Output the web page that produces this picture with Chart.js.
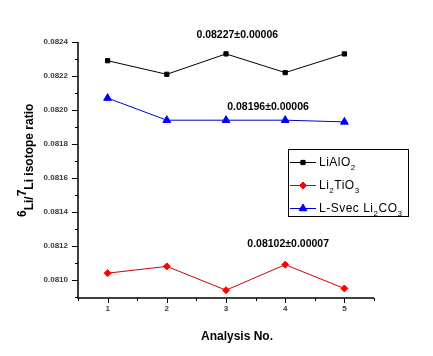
<!DOCTYPE html>
<html><head><meta charset="utf-8">
<script src="https://cdn.jsdelivr.net/npm/chart.js@4.4.1/dist/chart.umd.min.js"></script>
<style>html,body{margin:0;padding:0;background:#fff}#wrap{width:433px;height:356px;position:relative}</style>
</head><body><div id="wrap"><canvas id="c"></canvas></div>
<script>
// ---- data ----
const analysisNo = [1, 2, 3, 4, 5];
const liAlO2 = [0.08229, 0.08221, 0.08233, 0.08222, 0.08233];
const li2TiO3 = [0.08104, 0.08108, 0.08094, 0.08109, 0.08095];
const lSvec = [0.08207, 0.08194, 0.08194, 0.08194, 0.08193];
const yTickValues = [0.0810, 0.0812, 0.0814, 0.0816, 0.0818, 0.0820, 0.0822, 0.0824];
const yTickLabels = ['0.0810', '0.0812', '0.0814', '0.0816', '0.0818', '0.0820', '0.0822', '0.0824'];
const xTickLabels = ['1', '2', '3', '4', '5'];
const annotationTexts = ['0.08227\u00b10.00006', '0.08196\u00b10.00006', '0.08102\u00b10.00007'];
const annotationAnchors = [[3.19, 0.082441], [3.71, 0.082018], [4.05, 0.081212]];
const seriesNames = [[['LiAlO', 0], ['2', 1]], [['Li', 0], ['2', 1], ['TiO', 0], ['3', 1]], [['L-Svec Li', 0], ['2', 1], ['CO', 0], ['3', 1]]];

const FONT = '"Liberation Sans", Arial, sans-serif';

function pts(vals) { return analysisNo.map((x, i) => ({x: x, y: vals[i]})); }

const styles = [
  {color: '#000000', pointColor: '#000000', pointStyle: 'rect', r: 3},
  {color: '#d00000', pointColor: '#ff0000', pointStyle: 'rectRot', r: 3.5},
  {color: '#0000d0', pointColor: '#0000ff', pointStyle: 'triangle', r: 4.5}
];

const drawer = {
  id: 'drawer',
  afterDraw(chart) {
    const ctx = chart.ctx;
    const xs = chart.scales.x, ys = chart.scales.y;
    const L = xs.left, R = xs.right, T = ys.top, B = ys.bottom;
    ctx.save();
    ctx.strokeStyle = '#000';
    ctx.lineWidth = 1.5;
    ctx.beginPath();
    ctx.moveTo(L, T); ctx.lineTo(L, B); ctx.lineTo(R, B);
    ctx.stroke();
    ctx.lineWidth = 1;
    ctx.beginPath();
    for (let v = 0.0809; v <= 0.08241; v += 0.0001) {
      const y = Math.round(ys.getPixelForValue(v)) + 0.5;
      const major = yTickValues.some(t => Math.abs(t - v) < 1e-8);
      ctx.moveTo(L, y); ctx.lineTo(L - (major ? 6 : 3), y);
    }
    for (let v = 0.5; v <= 5.51; v += 0.5) {
      const x = Math.round(xs.getPixelForValue(v)) + 0.5;
      const major = Math.abs(v - Math.round(v)) < 1e-6;
      ctx.moveTo(x, B); ctx.lineTo(x, B + (major ? 5 : 3));
    }
    ctx.stroke();
    ctx.fillStyle = '#2e3e3a';
    ctx.font = 'bold 8px ' + FONT;
    ctx.textAlign = 'right'; ctx.textBaseline = 'middle';
    yTickValues.forEach((v, i) => ctx.fillText(yTickLabels[i], L - 10, ys.getPixelForValue(v)));
    ctx.textAlign = 'center'; ctx.textBaseline = 'top';
    analysisNo.forEach((v, i) => ctx.fillText(xTickLabels[i], xs.getPixelForValue(v), B + 7));
    ctx.fillStyle = '#000';
    ctx.font = 'bold 12px ' + FONT;
    ctx.textAlign = 'center'; ctx.textBaseline = 'alphabetic';
    ctx.fillText('Analysis No.', 237, 340);
    ctx.save();
    ctx.translate(33, 217);
    ctx.rotate(-Math.PI / 2);
    ctx.textAlign = 'left';
    let cx = 0;
    const parts = [['6', 1], ['Li/', 0], ['7', 1], ['Li isotope ratio', 0]];
    parts.forEach(p => {
      ctx.font = 'bold 12px ' + FONT;
      ctx.fillText(p[0], cx, p[1] ? -7 : 0);
      cx += ctx.measureText(p[0]).width;
    });
    ctx.restore();
    ctx.font = 'bold 10.5px ' + FONT;
    ctx.textAlign = 'center'; ctx.textBaseline = 'middle';
    annotationTexts.forEach((t, i) => {
      const a = annotationAnchors[i];
      ctx.fillText(t, xs.getPixelForValue(a[0]), ys.getPixelForValue(a[1]));
    });
    ctx.lineWidth = 1;
    ctx.strokeStyle = '#000';
    ctx.strokeRect(288.5, 149.5, 120, 67);
    const rowsY = [162, 185, 208];
    seriesNames.forEach((parts, i) => {
      const y = rowsY[i];
      const st = styles[i];
      ctx.strokeStyle = st.color;
      ctx.beginPath(); ctx.moveTo(290, y + 0.5); ctx.lineTo(316, y + 0.5); ctx.stroke();
      ctx.fillStyle = st.pointColor; ctx.strokeStyle = st.pointColor;
      Chart.helpers.drawPoint(ctx, {pointStyle: st.pointStyle, radius: st.r, rotation: 0, borderWidth: 1}, 303, y + 0.5);
      ctx.fillStyle = '#000';
      ctx.textAlign = 'left'; ctx.textBaseline = 'alphabetic';
      ctx.letterSpacing = '0.5px';
      let x = 319;
      parts.forEach(p => {
        ctx.font = (p[1] ? '8px ' : '12px ') + FONT;
        ctx.fillText(p[0], x, p[1] ? y + 8 : y + 4);
        x += ctx.measureText(p[0]).width;
      });
      ctx.letterSpacing = '0px';
    });
    ctx.restore();
  }
};

new Chart(document.getElementById('c'), {
  type: 'line',
  data: {
    datasets: [liAlO2, li2TiO3, lSvec].map((vals, i) => ({
      data: pts(vals),
      borderColor: styles[i].color,
      backgroundColor: styles[i].pointColor,
      pointBackgroundColor: styles[i].pointColor,
      pointBorderColor: styles[i].pointColor,
      pointStyle: styles[i].pointStyle,
      pointRadius: styles[i].r,
      borderWidth: 1,
      tension: 0
    }))
  },
  options: {
    responsive: true, maintainAspectRatio: false, animation: false,
    layout: {padding: {left: 0, right: 59, top: 42, bottom: 0}},
    plugins: {legend: {display: false}, tooltip: {enabled: false}},
    events: [],
    scales: {
      x: {type: 'linear', min: 0.5, max: 5.5, grid: {display: false}, border: {display: false},
          ticks: {display: false}, afterFit(s) { s.height = 58; }},
      y: {type: 'linear', min: 0.080894, max: 0.0824, grid: {display: false}, border: {display: false},
          ticks: {display: false}, afterFit(s) { s.width = 78; }}
    }
  },
  plugins: [drawer]
});
</script>
</body></html>
